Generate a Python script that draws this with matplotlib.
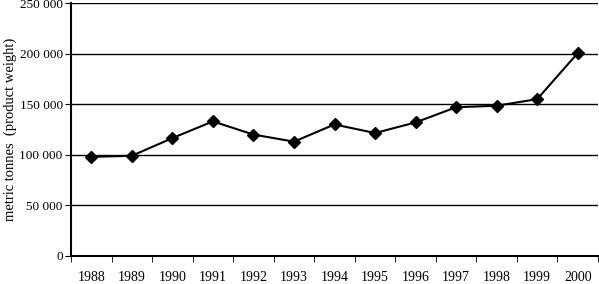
import numpy as np
import matplotlib.pyplot as plt

years = ['1988', '1989', '1990', '1991', '1992', '1993', '1994',
         '1995', '1996', '1997', '1998', '1999', '2000']
tonnes = [98000, 99000, 116500, 133000, 120000, 113000, 130000,
          121500, 132000, 147000, 148500, 155000, 200500]
yticks = [0, 50000, 100000, 150000, 200000, 250000]

plt.rcParams['font.family'] = ['Liberation Serif', 'DejaVu Serif']

fig = plt.figure(figsize=(5.99, 2.84), dpi=100)
ax = fig.add_axes([71 / 599, 28 / 284, 527 / 599, 253 / 284])

x = np.arange(len(years))
ax.plot(x, tonnes, color='black', lw=1.5, marker='D', ms=6, zorder=3)

ax.set_xlim(-0.5, len(years) - 0.5)
ax.set_ylim(0, 250000)
ax.set_yticks(yticks)
ax.set_yticklabels([f'{v:,}'.replace(',', ' ') for v in yticks], fontsize=9.5)
for v in yticks[1:]:
    ax.axhline(v, color='black', lw=1, zorder=1)

ax.set_xticks(x)
ax.set_xticklabels(years, fontsize=10)
ax.set_xticks(np.arange(len(years) + 1) - 0.5, minor=True)
ax.tick_params(axis='x', which='major', length=0, pad=11)
ax.tick_params(axis='x', which='minor', length=4, direction='out')
ax.tick_params(axis='y', length=4, direction='out', pad=2)

ax.spines['top'].set_visible(False)
ax.spines['right'].set_visible(False)
ax.spines['left'].set_linewidth(1.5)
ax.spines['bottom'].set_linewidth(1.5)

ax.set_ylabel('metric tonnes  (product weight)', fontsize=10.5, labelpad=2)

fig.savefig('out.png', dpi=100)
